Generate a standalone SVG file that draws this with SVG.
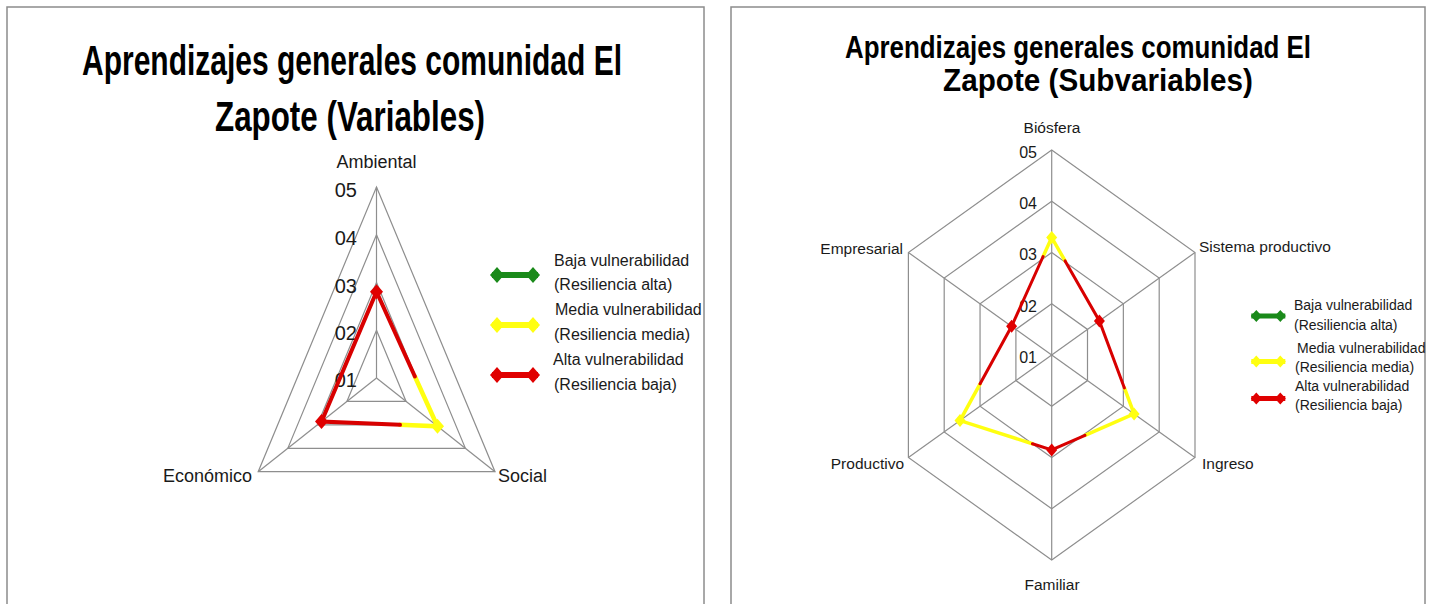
<svg xmlns="http://www.w3.org/2000/svg" xmlns:xlink="http://www.w3.org/1999/xlink" width="1430" height="604" viewBox="0 0 1430 604">
<style>
.panel{fill:#ffffff;stroke:#8c8c8c;stroke-width:1.5}
.grid{fill:none;stroke:#8e8e8e;stroke-width:1.2}
.title{font-family:"Liberation Sans",Arial,sans-serif;font-weight:bold;fill:#000}
.lab{font-family:"Liberation Sans",Arial,sans-serif;fill:#1a1a1a}
.red{stroke:#d80000;fill:none;stroke-linecap:round}
.yel{stroke:#ffff10;fill:none;stroke-linecap:round}
</style>
<defs>
<g id="lmkL"><line x1="-23" y1="0" x2="23" y2="0" stroke="currentColor" stroke-width="6"/><path d="M-25,0 L-18,-8 L-11,0 L-18,8Z M11,0 L18,-8 L25,0 L18,8Z" fill="currentColor"/></g>
<g id="lmkR"><line x1="-17" y1="0" x2="17" y2="0" stroke="currentColor" stroke-width="5"/><path d="M-17.5,0 L-12,-6 L-6.5,0 L-12,6Z M6.5,0 L12,-6 L17.5,0 L12,6Z" fill="currentColor"/></g>
<path id="dmL" d="M-6.5,0 L0,-7.5 L6.5,0 L0,7.5Z"/>
<path id="dmR" d="M-5.5,0 L0,-6.5 L5.5,0 L0,6.5Z"/>
</defs>

<rect class="panel" x="7" y="7" width="697" height="620"/>
<rect class="panel" x="731" y="7" width="694" height="620"/>

<g id="chart-left">
<text class="title" x="82" y="75" font-size="42" textLength="540" lengthAdjust="spacingAndGlyphs">Aprendizajes generales comunidad El</text>
<text class="title" x="215" y="131" font-size="42" textLength="270" lengthAdjust="spacingAndGlyphs">Zapote (Variables)</text>
<g id="grid-left" class="grid">
<polygon points="376.5,187 495,471.7 258.2,471.7"/>
<polygon points="376.5,234.75 465.4,448.3 287.8,448.3"/>
<polygon points="376.5,282.5 435.8,424.9 317.4,424.9"/>
<polygon points="376.5,330.25 406.1,401.4 346.9,401.4"/>
<line x1="376.5" y1="378" x2="376.5" y2="187"/>
<line x1="376.5" y1="378" x2="495" y2="471.7"/>
<line x1="376.5" y1="378" x2="258.2" y2="471.7"/>
</g>
<g id="ticks-left" class="lab" font-size="20" text-anchor="end">
<text x="357" y="197">05</text>
<text x="357" y="245">04</text>
<text x="357" y="292.5">03</text>
<text x="357" y="340">02</text>
<text x="357" y="387">01</text>
</g>
<g id="axis-labels-left" class="lab" font-size="18">
<text x="376.5" y="168" text-anchor="middle">Ambiental</text>
<text x="252" y="481.7" text-anchor="end">Económico</text>
<text x="498" y="481.7">Social</text>
</g>
<g id="series-left">
<polyline class="yel" stroke-width="4.5" points="414.9,376.5 437.5,426.3 400,424.8"/>
<polyline class="red" stroke-width="4" points="414.9,376.5 376.5,291.7 321.5,421.6 400,424.8"/>
<use href="#dmL" x="376.5" y="291.7" fill="#e00000"/>
<use href="#dmL" x="321.5" y="421.6" fill="#e00000"/>
<use href="#dmL" x="437.5" y="426.3" fill="#ffff10"/>
</g>
<g id="legend-left">
<use href="#lmkL" x="515" y="275" color="#1a8a1a"/>
<use href="#lmkL" x="515" y="325" color="#ffff10"/>
<use href="#lmkL" x="515" y="375" color="#e00000"/>
<g class="lab" font-size="16">
<text x="554" y="266">Baja vulnerabilidad</text>
<text x="554" y="290">(Resiliencia alta)</text>
<text x="555" y="315">Media vulnerabilidad</text>
<text x="554" y="340">(Resiliencia media)</text>
<text x="553" y="365">Alta vulnerabilidad</text>
<text x="554" y="390">(Resiliencia baja)</text>
</g>
</g>
</g>

<g id="chart-right">
<text class="title" x="845" y="58" font-size="31" textLength="466" lengthAdjust="spacingAndGlyphs">Aprendizajes generales comunidad El</text>
<text class="title" x="943" y="91" font-size="31" textLength="310" lengthAdjust="spacingAndGlyphs">Zapote (Subvariables)</text>
<g id="grid-right" class="grid">
<polygon points="1051.7,150 1195,252.5 1195,457.5 1051.7,560 908.4,457.5 908.4,252.5"/>
<polygon points="1051.7,201.25 1159.2,278.1 1159.2,431.9 1051.7,508.75 944.2,431.9 944.2,278.1"/>
<polygon points="1051.7,252.5 1123.35,303.75 1123.35,406.25 1051.7,457.5 980.05,406.25 980.05,303.75"/>
<polygon points="1051.7,303.75 1087.5,329.4 1087.5,380.6 1051.7,406.25 1015.9,380.6 1015.9,329.4"/>
<line x1="1051.7" y1="355" x2="1051.7" y2="150"/>
<line x1="1051.7" y1="355" x2="1195" y2="252.5"/>
<line x1="1051.7" y1="355" x2="1195" y2="457.5"/>
<line x1="1051.7" y1="355" x2="1051.7" y2="560"/>
<line x1="1051.7" y1="355" x2="908.4" y2="457.5"/>
<line x1="1051.7" y1="355" x2="908.4" y2="252.5"/>
</g>
<g id="ticks-right" class="lab" font-size="16" text-anchor="end">
<text x="1037" y="158">05</text>
<text x="1037" y="209">04</text>
<text x="1037" y="260">03</text>
<text x="1037" y="311.5">02</text>
<text x="1037" y="363">01</text>
</g>
<g id="axis-labels-right" class="lab" font-size="15.5">
<text x="1052" y="133" text-anchor="middle">Biósfera</text>
<text x="1199" y="252">Sistema productivo</text>
<text x="1202" y="468.5">Ingreso</text>
<text x="1052" y="590" text-anchor="middle">Familiar</text>
<text x="904" y="468.5" text-anchor="end">Productivo</text>
<text x="903" y="253.5" text-anchor="end">Empresarial</text>
</g>
<g id="series-right">
<polyline class="yel" stroke-width="3.5" points="1043.1,256.5 1051.7,237.5 1065.1,260.9"/>
<polyline class="yel" stroke-width="3.5" points="1124.4,387.9 1134.1,413.9 1085,435.4"/>
<polyline class="yel" stroke-width="3.5" points="1032.4,443.75 960,420.6 980.1,383.8"/>
<polyline class="red" stroke-width="3" points="1065.1,260.9 1099.4,320.9 1124.4,387.9"/>
<polyline class="red" stroke-width="3" points="1085,435.4 1051.7,449.9 1032.4,443.75"/>
<polyline class="red" stroke-width="3" points="980.1,383.8 1011.6,326.3 1043.1,256.5"/>
<use href="#dmR" x="1051.7" y="237.5" fill="#ffff10"/>
<use href="#dmR" x="1134.1" y="413.9" fill="#ffff10"/>
<use href="#dmR" x="960" y="420.6" fill="#ffff10"/>
<use href="#dmR" x="1011.6" y="326.3" fill="#e00000"/>
<use href="#dmR" x="1099.4" y="320.9" fill="#e00000"/>
<use href="#dmR" x="1051.7" y="449.9" fill="#e00000"/>
</g>
<g id="legend-right">
<use href="#lmkR" x="1268.3" y="316" color="#1a8a1a"/>
<use href="#lmkR" x="1268.3" y="361.5" color="#ffff10"/>
<use href="#lmkR" x="1268.3" y="398.5" color="#e00000"/>
<g class="lab" font-size="14">
<text x="1294" y="310">Baja vulnerabilidad</text>
<text x="1294" y="329.5">(Resiliencia alta)</text>
<text x="1297" y="352.5">Media vulnerabilidad</text>
<text x="1295" y="371.5">(Resiliencia media)</text>
<text x="1295" y="390.5">Alta vulnerabilidad</text>
<text x="1295" y="409.5">(Resiliencia baja)</text>
</g>
</g>
</g>
</svg>
